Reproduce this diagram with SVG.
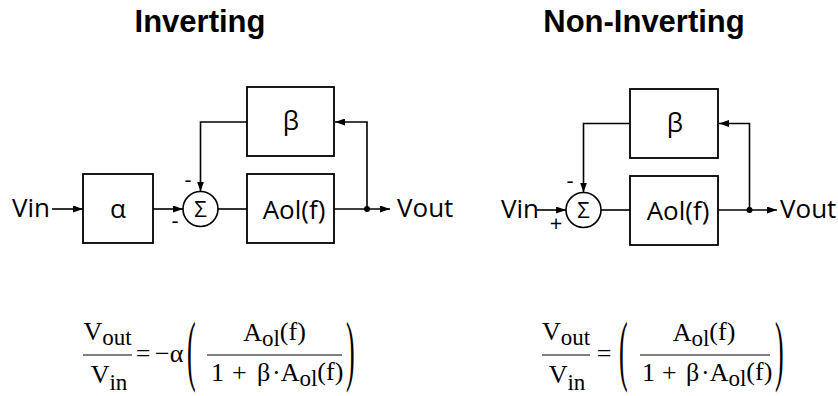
<svg xmlns="http://www.w3.org/2000/svg" width="838" height="396" viewBox="0 0 838 396">
<defs>
<style>
.box{fill:#fff;stroke:#000;stroke-width:1.8}
.sum{fill:#fff;stroke:#000;stroke-width:1.6}
.wire{fill:none;stroke:#000;stroke-width:1.6}
.lbl{font-family:"Open Sans","DejaVu Sans",sans-serif;font-size:26px;fill:#000}
.sig{font-family:"Open Sans","DejaVu Sans",sans-serif;font-size:22px;fill:#000;text-anchor:middle}
.sgn{font-family:"Open Sans","DejaVu Sans",sans-serif;font-size:22px;fill:#000;text-anchor:middle}
.ttl{font-family:"Liberation Sans",Arial,sans-serif;font-size:31px;font-weight:bold;fill:#000;text-anchor:middle}
.eq{font-family:"Liberation Serif","Times New Roman",serif;font-size:26px;fill:#000}
.sub{font-size:23px}
.frac{stroke:#000;stroke-width:1.2}
</style>
<marker id="ah" viewBox="0 0 10 7" refX="10" refY="3.5" markerWidth="10" markerHeight="7" markerUnits="userSpaceOnUse" orient="auto">
<path d="M0,0 L10,3.5 L0,7 z" fill="#000"/>
</marker>
</defs>
<rect width="838" height="396" fill="#fff"/>

<text class="ttl" x="200" y="32">Inverting</text>
<text class="ttl" x="644" y="32">Non-Inverting</text>

<!-- Left diagram connectors -->
<g id="connectors-left">
<line class="wire" x1="52" y1="209" x2="83" y2="209" marker-end="url(#ah)"/>
<line class="wire" x1="153" y1="209" x2="183" y2="209" marker-end="url(#ah)"/>
<line class="wire" x1="218" y1="209" x2="247" y2="209"/>
<line class="wire" x1="334" y1="209" x2="390" y2="209" marker-end="url(#ah)"/>
<path class="wire" d="M367,209 V122 H335" marker-end="url(#ah)"/>
<path class="wire" d="M247,122 H200.5 V191.5" marker-end="url(#ah)"/>
<circle cx="367" cy="209" r="3" fill="#000"/>
</g>

<g id="L-vin"><text class="lbl" x="12" y="217">Vin</text></g>
<g id="L-alpha"><rect class="box" x="83" y="174" width="70" height="69"/><text class="lbl" x="118" y="218" text-anchor="middle">α</text></g>
<g id="L-sum"><circle class="sum" cx="200.5" cy="209" r="17.5"/><text class="sig" x="200.5" y="217">Σ</text>
<text class="sgn" x="188" y="187">-</text><text class="sgn" x="175" y="228">-</text></g>
<g id="L-beta"><rect class="box" x="247" y="87" width="87" height="69"/><text class="lbl" x="291" y="130" text-anchor="middle">β</text></g>
<g id="L-aol"><rect class="box" x="247" y="174" width="87" height="69"/><text class="lbl" x="294" y="219" text-anchor="middle">Aol(f)</text></g>
<g id="L-vout"><text class="lbl" x="397" y="217">Vout</text></g>

<!-- Right diagram connectors -->
<g id="connectors-right">
<line class="wire" x1="537" y1="210" x2="566" y2="210" marker-end="url(#ah)"/>
<line class="wire" x1="601" y1="210" x2="630" y2="210"/>
<line class="wire" x1="718" y1="210" x2="777" y2="210" marker-end="url(#ah)"/>
<path class="wire" d="M749.5,210 V123.5 H719" marker-end="url(#ah)"/>
<path class="wire" d="M630,123.5 H583.5 V192.5" marker-end="url(#ah)"/>
<circle cx="749.5" cy="210" r="3" fill="#000"/>
</g>

<g id="R-vin"><text class="lbl" x="501" y="218">Vin</text></g>
<g id="R-sum"><circle class="sum" cx="583.5" cy="210" r="17.5"/><text class="sig" x="583.5" y="218">Σ</text>
<text class="sgn" x="570" y="188">-</text><text class="sgn" x="556" y="231">+</text></g>
<g id="R-beta"><rect class="box" x="630" y="89" width="88" height="69"/><text class="lbl" x="675" y="132" text-anchor="middle">β</text></g>
<g id="R-aol"><rect class="box" x="630" y="176" width="88" height="69"/><text class="lbl" x="678" y="220" text-anchor="middle">Aol(f)</text></g>
<g id="R-vout"><text class="lbl" x="780" y="218">Vout</text></g>

<!-- Left equation -->
<g id="eq-left">
<text class="eq" x="107.5" y="340" text-anchor="middle">V<tspan class="sub" dy="5">out</tspan></text>
<line class="frac" x1="83" y1="355" x2="132" y2="355"/>
<text class="eq" x="109" y="383" text-anchor="middle">V<tspan class="sub" dy="7">in</tspan></text>
<text class="eq" x="143" y="362" text-anchor="middle">=</text>
<text class="eq" x="155" y="362">−α</text>
<text class="eq" font-size="28" transform="translate(187,376) scale(1,3.05)">(</text>
<text class="eq" x="274.5" y="341" text-anchor="middle">A<tspan class="sub" dy="5">ol</tspan><tspan dy="-6">(f)</tspan></text>
<line class="frac" x1="207" y1="355" x2="342" y2="355"/>
<text class="eq" y="381"><tspan x="211">1</tspan><tspan x="232">+</tspan><tspan x="257">β</tspan><tspan x="272">·A</tspan><tspan class="sub" dy="5">ol</tspan><tspan dy="-6">(f)</tspan></text>
<text class="eq" font-size="28" transform="translate(346,376) scale(1,3.05)">)</text>
</g>

<!-- Right equation -->
<g id="eq-right">
<text class="eq" x="566" y="340" text-anchor="middle">V<tspan class="sub" dy="5">out</tspan></text>
<line class="frac" x1="542" y1="355" x2="590" y2="355"/>
<text class="eq" x="567" y="383" text-anchor="middle">V<tspan class="sub" dy="7">in</tspan></text>
<text class="eq" x="604" y="362" text-anchor="middle">=</text>
<text class="eq" font-size="28" transform="translate(619,376) scale(1,3.05)">(</text>
<text class="eq" x="704" y="341" text-anchor="middle">A<tspan class="sub" dy="5">ol</tspan><tspan dy="-6">(f)</tspan></text>
<line class="frac" x1="640" y1="355" x2="770" y2="355"/>
<text class="eq" y="381"><tspan x="642">1</tspan><tspan x="662">+</tspan><tspan x="686">β</tspan><tspan x="701">·A</tspan><tspan class="sub" dy="5">ol</tspan><tspan dy="-6">(f)</tspan></text>
<text class="eq" font-size="28" transform="translate(775,376) scale(1,3.05)">)</text>
</g>
</svg>
